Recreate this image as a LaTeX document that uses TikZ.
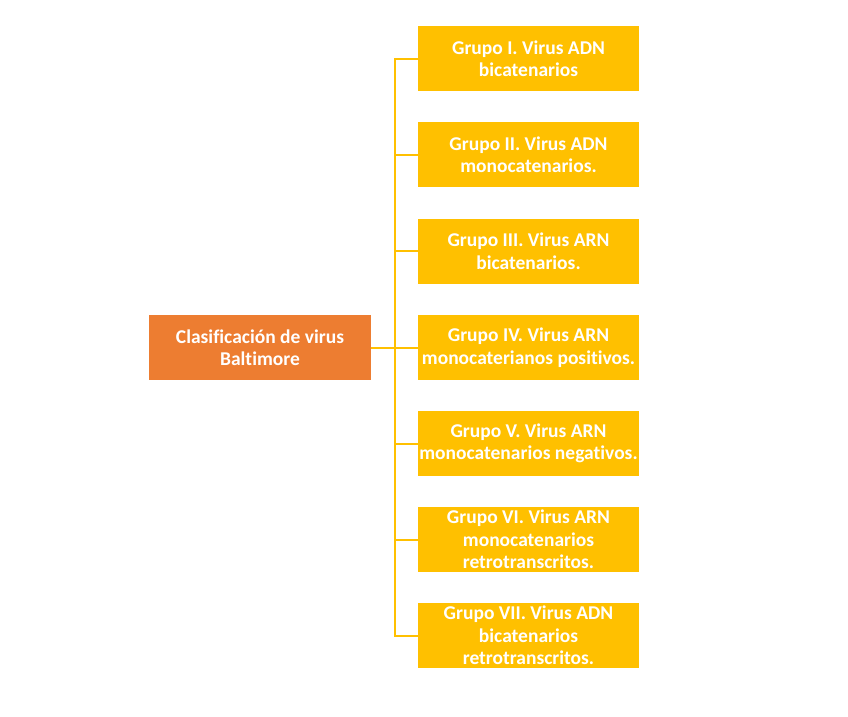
\documentclass[tikz,border=0pt]{standalone}
\usepackage{fontspec}
\setmainfont[Ligatures=NoCommon]{Carlito}
\usepackage{xcolor}
\definecolor{baltorange}{HTML}{ED7D31}
\definecolor{baltyellow}{HTML}{FFC000}
\tikzset{
  rootbox/.style={fill=baltorange, text=white, minimum width=222pt, minimum height=65pt, align=center, font=\bfseries\fontsize{19.5}{22.5}\selectfont},
  groupbox/.style={fill=baltyellow, text=white, minimum width=221pt, minimum height=65pt, inner sep=0pt, align=center, font=\bfseries\fontsize{19.5}{22.5}\selectfont},
  branch/.style={draw=baltyellow, line width=2pt}
}
\begin{document}
\begin{tikzpicture}[x=1pt,y=-1pt]
        \useasboundingbox (0,0) rectangle (848,716);

        %Root of the classification
        \node[rootbox] (root) at (260,347.5) {Clasificación de virus\\Baltimore};

        %The seven groups
        \node[groupbox] (g1) at (528.5,58.5) {Grupo I. Virus ADN\\bicatenarios};
        \node[groupbox] (g2) at (528.5,154.5) {Grupo II. Virus ADN\\monocatenarios.};
        \node[groupbox] (g3) at (528.5,251) {Grupo III. Virus ARN\\bicatenarios.};
        \node[groupbox] (g4) at (528.5,347.5) {Grupo IV. Virus ARN\\monocaterianos positivos.};
        \node[groupbox] (g5) at (528.5,443.5) {Grupo V. Virus ARN\\monocatenarios negativos.};
        \node[groupbox] (g6) at (528.5,539.5) {Grupo VI. Virus ARN\\monocatenarios\\retrotranscritos.};
        \node[groupbox] (g7) at (528.5,635.5) {Grupo VII. Virus ADN\\bicatenarios\\retrotranscritos.};

        %Bracket between root and groups
        \coordinate (bus) at (395,347.5);
        \draw[branch] (root.east) -- (bus);
        \foreach \g in {g1,g2,g3,g4,g5,g6,g7}
            \draw[branch] (bus) |- (\g.west);

\end{tikzpicture}
\end{document}
